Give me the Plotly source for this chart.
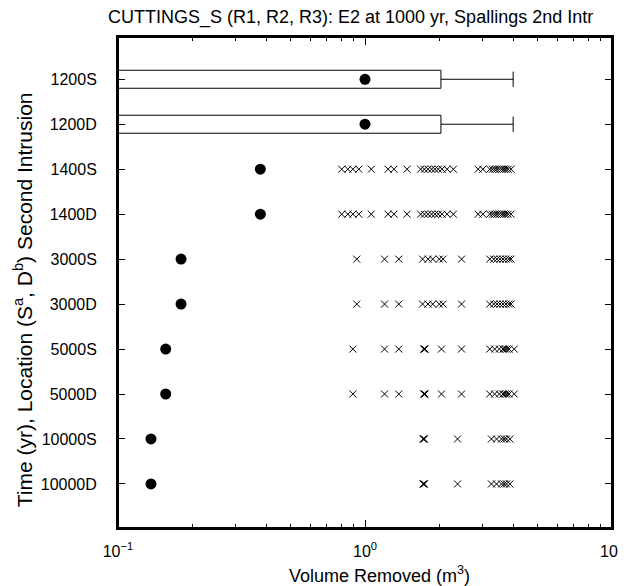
import plotly.graph_objects as go

# rows, top to bottom
rows = ["1200S", "1200D", "1400S", "1400D", "3000S", "3000D",
        "5000S", "5000D", "10000S", "10000D"]

# mean volume removed (m3) per row
means = [1.0, 1.0, 0.377, 0.377, 0.180, 0.180, 0.156, 0.156, 0.136, 0.136]

# box summaries for the 1200 yr rows (lower end below axis range)
box_rows = ["1200S", "1200D"]
box_low = [0.05, 0.05]
box_q1 = [0.05, 0.05]
box_med = [0.05, 0.05]
box_q3 = [2.03, 2.03]
box_high = [3.98, 3.98]

# individual nonzero realizations for the other rows
vol_1400 = [0.805, 0.852, 0.893, 0.944, 1.06, 1.24, 1.31, 1.48,
            1.68, 1.74, 1.80, 1.86, 1.92, 1.98, 2.05, 2.15, 2.28,
            2.87, 3.0, 3.2, 3.28, 3.35, 3.42, 3.5, 3.58, 3.65, 3.72, 3.8, 3.9]
vol_3000 = [0.926, 1.20, 1.37, 1.71, 1.80, 1.88, 2.0, 2.07, 2.46,
            3.2, 3.32, 3.42, 3.52, 3.62, 3.72, 3.82, 3.9]
vol_5000 = [0.893, 1.20, 1.37, 1.73, 1.74, 1.75, 2.04, 2.46,
            3.2, 3.35, 3.5, 3.62, 3.68, 3.75, 3.83, 4.02]
vol_10000 = [1.72, 1.73, 1.74, 2.37, 3.25, 3.41, 3.57, 3.66, 3.74, 3.86]

row_vols = {"1400S": vol_1400, "1400D": vol_1400,
            "3000S": vol_3000, "3000D": vol_3000,
            "5000S": vol_5000, "5000D": vol_5000,
            "10000S": vol_10000, "10000D": vol_10000}

fig = go.Figure()

fig.add_trace(go.Box(
    y=box_rows, orientation="h",
    lowerfence=box_low, q1=box_q1, median=box_med, q3=box_q3, upperfence=box_high,
    width=0.4, whiskerwidth=0.85,
    fillcolor="white", line=dict(color="black", width=1),
    showlegend=False, hoverinfo="skip",
))

xs, ys = [], []
for r, vals in row_vols.items():
    xs += vals
    ys += [r] * len(vals)
fig.add_trace(go.Scatter(
    x=xs, y=ys, mode="markers",
    marker=dict(symbol="x-thin", size=7, color="black",
                line=dict(width=1, color="black")),
    showlegend=False,
))

fig.add_trace(go.Scatter(
    x=means, y=rows, mode="markers",
    marker=dict(symbol="circle", size=11, color="black"),
    showlegend=False,
))

minor_vals = [m * d for d in (0.1, 1) for m in range(2, 10)]

# page body adds 8px offset, so the figure is 8px smaller and shifted
fig.update_layout(
    width=618, height=578,
    margin=dict(l=110, r=14, t=29, b=58),
    paper_bgcolor="white", plot_bgcolor="white",
    font=dict(family="Liberation Sans, Arial, sans-serif", size=15, color="black"),
    title=dict(text="CUTTINGS_S (R1, R2, R3): E2 at 1000 yr, Spallings 2nd Intr",
               x=100 / 618, xanchor="left", y=1 - 2 / 578, yanchor="top",
               pad=dict(t=0, b=0, l=0, r=0),
               font=dict(size=18)),
    xaxis=dict(
        type="log", range=[-1, 1], automargin=False,
        tickmode="array", tickvals=[0.1, 1, 10],
        ticktext=["10<sup>\u22121</sup>", "10<sup>0</sup>", "10<sup>1</sup>"],
        tickfont=dict(size=16), ticklabelstandoff=8,
        ticks="inside", ticklen=8, tickwidth=1, tickcolor="black",
        minor=dict(tickmode="array", tickvals=minor_vals, ticks="inside",
                   ticklen=4, tickwidth=1, tickcolor="black", showgrid=False),
        showgrid=False, zeroline=False,
        showline=True, linecolor="black", linewidth=2, mirror="ticks",
    ),
    yaxis=dict(
        type="category", categoryorder="array", categoryarray=rows,
        range=[9.98, -0.94], automargin=False,
        tickfont=dict(size=16), ticklabelstandoff=16,
        ticks="inside", ticklen=7, tickwidth=1, tickcolor="black",
        showgrid=False, zeroline=False,
        showline=True, linecolor="black", linewidth=2, mirror="ticks",
    ),
)

# plot frame
fig.add_shape(type="rect", xref="paper", yref="paper", x0=0, x1=1, y0=0, y1=1,
              line=dict(color="black", width=2), layer="above")

# axis titles
fig.add_annotation(text="Volume Removed (m<sup>3</sup>)", xref="paper", yref="paper",
                   x=0.53, y=-0.0957, xanchor="center", yanchor="middle",
                   showarrow=False, font=dict(size=18))
fig.add_annotation(text="Time (yr), Location (S<sup>a</sup>, D<sup>b</sup>) Second Intrusion",
                   xref="paper", yref="paper", x=-0.1923, y=0.464, textangle=-90,
                   xanchor="center", yanchor="middle",
                   showarrow=False, font=dict(size=21))

fig.write_html("out.html")
